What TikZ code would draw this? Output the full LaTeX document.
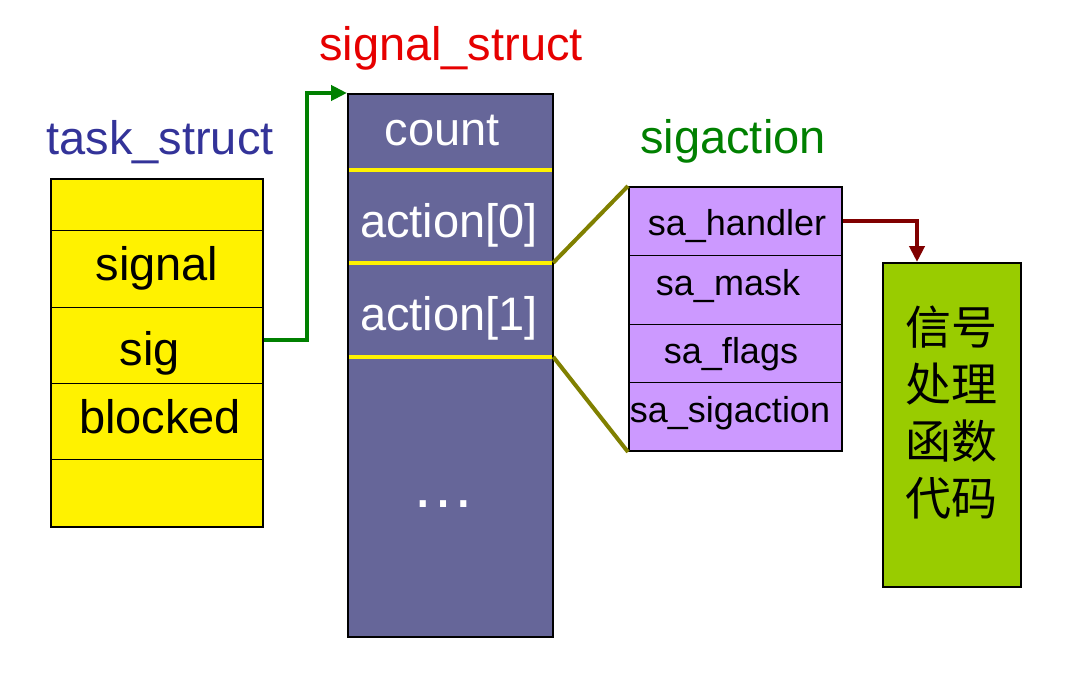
\documentclass[tikz,border=0pt]{standalone}
\usepackage{fontspec}
\setmainfont{Liberation Sans}
\newfontfamily\cjk{Noto Sans CJK SC}
\usetikzlibrary{arrows.meta,calc}

\definecolor{taskblue}{HTML}{333399}
\definecolor{structred}{HTML}{E60000}
\definecolor{actgreen}{HTML}{008000}
\definecolor{ssfill}{HTML}{666699}
\definecolor{safill}{HTML}{CC99FF}
\definecolor{codefill}{HTML}{99CC00}
\definecolor{linkgreen}{HTML}{008000}
\definecolor{linkred}{HTML}{800000}
\definecolor{linkolive}{HTML}{808000}

\begin{document}
\begin{tikzpicture}[x=1pt, y=-1pt,
    cell/.style={draw, line width=1pt, inner sep=0pt},
    frame/.style={draw, line width=2pt, inner sep=0pt},
    txt/.style={anchor=base, inner sep=0pt, font=\fontsize{47}{56}\selectfont},
    smalltxt/.style={anchor=base, inner sep=0pt, font=\fontsize{36}{43}\selectfont},
    link/.style={line width=4pt, -{Triangle[length=16pt,width=15pt]}}]
      \useasboundingbox (0,0) rectangle (1079,677);

      % task_struct
      \node at (157,204.5) [cell, minimum width=212pt, minimum height=51pt, fill=yellow, name=ts0] {};
      \node at (157,268.5) [cell, minimum width=212pt, minimum height=77pt, fill=yellow, name=ts1] {};
      \node at (157,345) [cell, minimum width=212pt, minimum height=76pt, fill=yellow, name=ts2] {};
      \node at (157,421) [cell, minimum width=212pt, minimum height=76pt, fill=yellow, name=ts3] {};
      \node at (157,493) [cell, minimum width=212pt, minimum height=68pt, fill=yellow, name=ts4] {};
      \node at (157,353) [frame, minimum width=212pt, minimum height=348pt, name=task] {};

      \node at (160,154) [txt, text=taskblue, name=tstitle] {task\_struct};
      \node at (157,280) [txt, name=tssignal] {signal};
      \node at (150,365) [txt, name=tssig] {sig};
      \node at (160,433) [txt, name=tsblocked] {blocked};

      % signal_struct
      \node at (450.5,132) [inner sep=0pt, minimum width=205pt, minimum height=76pt, fill=ssfill, name=ss0] {};
      \node at (450.5,216.5) [inner sep=0pt, minimum width=205pt, minimum height=93pt, fill=ssfill, name=ss1] {};
      \node at (450.5,310) [inner sep=0pt, minimum width=205pt, minimum height=94pt, fill=ssfill, name=ss2] {};
      \node at (450.5,497) [inner sep=0pt, minimum width=205pt, minimum height=280pt, fill=ssfill, name=ss3] {};

      \draw [yellow, line width=4pt] (ss1.north west) -- (ss1.north east);
      \draw [yellow, line width=4pt] (ss2.north west) -- (ss2.north east);
      \draw [yellow, line width=4pt] (ss3.north west) -- (ss3.north east);

      \node at (450.5,365.5) [frame, minimum width=205pt, minimum height=543pt, name=ss] {};

      \node at (451,60) [txt, text=structred, name=sstitle] {signal\_struct};
      \node at (442,145) [txt, text=white, name=sscount] {count};
      \node at (449,237) [txt, text=white, name=ssact0] {action[0]};
      \node at (449,330) [txt, text=white, name=ssact1] {action[1]};
      \node at (443,507) [anchor=base, inner sep=0pt, text=white, font=\fontsize{64}{70}\selectfont, name=ssdots] {…};

      % sigaction
      \node at (735.5,221) [cell, minimum width=213pt, minimum height=68pt, fill=safill, name=sa0] {};
      \node at (735.5,289.5) [cell, minimum width=213pt, minimum height=69pt, fill=safill, name=sa1] {};
      \node at (735.5,353) [cell, minimum width=213pt, minimum height=58pt, fill=safill, name=sa2] {};
      \node at (735.5,416.5) [cell, minimum width=213pt, minimum height=69pt, fill=safill, name=sa3] {};
      \node at (735.5,319) [frame, minimum width=213pt, minimum height=264pt, name=sa] {};

      \node at (733,153) [txt, text=actgreen, name=satitle] {sigaction};
      \node at (737,235) [smalltxt, name=sahandler] {sa\_handler};
      \node at (728,295) [smalltxt, name=samask] {sa\_mask};
      \node at (731,363) [smalltxt, name=saflags] {sa\_flags};
      \node at (730,422) [smalltxt, name=sasigaction] {sa\_sigaction};

      % handler code
      \node at (952,425) [frame, minimum width=138pt, minimum height=324pt, fill=codefill, name=code] {};
      \node at (951,413) [align=center, inner sep=0pt, font=\cjk\fontsize{46}{57}\selectfont, name=codetxt]
      {信号\\处理\\函数\\代码};

      % links
      \draw [link, color=linkgreen] ($(ts2.east)+(0,-5)$) -- ++(43,0) |- (ss.north west);
      \draw [link, color=linkred] (sa0.east) -| ($(code.north west)+(35,0)$);
      \draw [linkolive, line width=4pt] (ss2.north east) -- (sa.north west);
      \draw [linkolive, line width=4pt] (ss3.north east) -- (sa.south west);
    \end{tikzpicture}
\end{document}
